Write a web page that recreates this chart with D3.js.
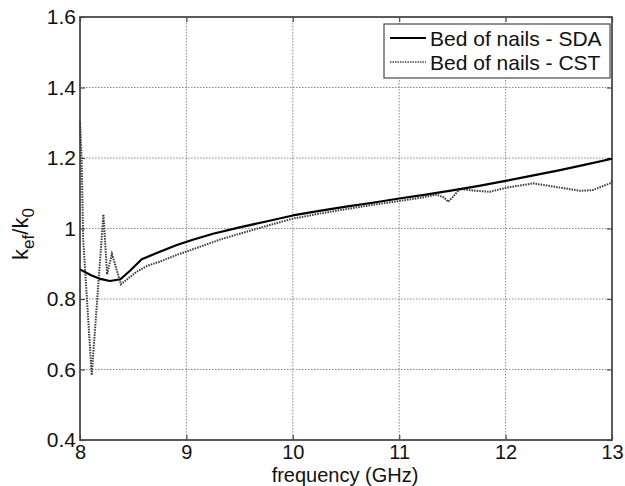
<!DOCTYPE html>
<html>
<head>
<meta charset="utf-8">
<script src="https://cdn.jsdelivr.net/npm/d3@7"></script>
<style>
  html, body { margin: 0; padding: 0; background: #fff; }
  svg { display: block; font-family: "Liberation Sans", Arial, sans-serif; }
</style>
</head>
<body>
<svg id="chart" width="625" height="486"></svg>
<script>
// Effective wavenumber ratio vs frequency
const sdaFreq = [8.0, 8.1, 8.19, 8.28, 8.38, 8.47, 8.58, 8.62, 8.75, 8.91, 9.06, 9.25, 9.5, 9.75, 10, 10.25, 10.5, 10.75, 11, 11.25, 11.5, 11.75, 12, 12.25, 12.5, 12.75, 13];
const sdaVal  = [0.884, 0.868, 0.857, 0.851, 0.856, 0.880, 0.913, 0.918, 0.934, 0.953, 0.968, 0.985, 1.003, 1.020, 1.037, 1.050, 1.062, 1.073, 1.085, 1.096, 1.108, 1.121, 1.135, 1.150, 1.165, 1.181, 1.198];

const cstFreq = [8.0, 8.015, 8.03, 8.11, 8.22, 8.255, 8.30, 8.385, 8.44, 8.53, 8.63, 8.75, 8.91, 9.06, 9.32, 9.5, 9.75, 10, 10.25, 10.5, 10.75, 11, 11.2, 11.35, 11.42, 11.46, 11.5, 11.57, 11.69, 11.85, 12.01, 12.26, 12.45, 12.7, 12.82, 12.98, 13];
const cstVal  = [1.305, 1.20, 0.97, 0.584, 1.04, 0.87, 0.928, 0.842, 0.855, 0.877, 0.894, 0.906, 0.925, 0.941, 0.969, 0.985, 1.007, 1.028, 1.042, 1.055, 1.067, 1.078, 1.087, 1.096, 1.088, 1.076, 1.088, 1.112, 1.108, 1.104, 1.116, 1.128, 1.119, 1.107, 1.109, 1.128, 1.135];

const xTicks = [8, 9, 10, 11, 12, 13];
const yTicks = [0.4, 0.6, 0.8, 1.0, 1.2, 1.4, 1.6];
const seriesNames = ["Bed of nails - SDA", "Bed of nails - CST"];

const svg = d3.select("#chart");
const L = 80, R = 612, T = 17, B = 440;

const x = d3.scaleLinear().domain([8, 13]).range([L, R]);
const y = d3.scaleLinear().domain([0.4, 1.6]).range([B, T]);

const axisColor = "#4a4a4a";
const fmtY = d => (d === 1 ? "1" : d3.format(".1f")(d));
const labelFont = "21px";

// grid
const grid = svg.append("g");
grid.selectAll("line.gx").data(xTicks.slice(1, -1)).join("line")
  .attr("x1", d => x(d)).attr("x2", d => x(d)).attr("y1", T).attr("y2", B)
  .attr("stroke", "#8a8a8a").attr("stroke-width", 1).attr("stroke-dasharray", "1.5,1.5");
grid.selectAll("line.gy").data(yTicks.slice(1, -1)).join("line")
  .attr("y1", d => y(d)).attr("y2", d => y(d)).attr("x1", L).attr("x2", R)
  .attr("stroke", "#8a8a8a").attr("stroke-width", 1).attr("stroke-dasharray", "1.5,1.5");

// axes with inward ticks on all sides
const tickLen = 5;
const axB = svg.append("g").attr("transform", `translate(0,${B})`)
  .call(d3.axisBottom(x).tickValues(xTicks).tickSize(-tickLen).tickPadding(5).tickFormat(d3.format("d")));
const axT = svg.append("g").attr("transform", `translate(0,${T})`)
  .call(d3.axisTop(x).tickValues(xTicks).tickSize(-tickLen).tickFormat(""));
const axL = svg.append("g").attr("transform", `translate(${L},0)`)
  .call(d3.axisLeft(y).tickValues(yTicks).tickSize(-tickLen).tickPadding(4).tickFormat(fmtY));
const axR = svg.append("g").attr("transform", `translate(${R},0)`)
  .call(d3.axisRight(y).tickValues(yTicks).tickSize(-tickLen).tickFormat(""));

[axB, axT, axL, axR].forEach(a => {
  a.select(".domain").remove();
  a.selectAll(".tick line").attr("stroke", axisColor).attr("stroke-width", 1.2);
  a.selectAll("text").attr("fill", "#111").style("font-size", labelFont)
    .style("font-family", "'Liberation Sans', Arial, sans-serif");
});
axB.selectAll("text").attr("dy", "0.71em").style("font-size", "20px");

// frame
svg.append("rect").attr("x", L).attr("y", T).attr("width", R - L).attr("height", B - T)
  .attr("fill", "none").attr("stroke", axisColor).attr("stroke-width", 1.8);

// series
const line = d3.line().x(d => x(d[0])).y(d => y(d[1]));
const sda = sdaFreq.map((f, i) => [f, sdaVal[i]]);
const cst = cstFreq.map((f, i) => [f, cstVal[i]]);

svg.append("path").datum(cst).attr("d", line)
  .attr("fill", "none").attr("stroke", "#3a3a3a").attr("stroke-width", 2)
  .attr("stroke-dasharray", "1.5,1.1");
svg.append("path").datum(sda).attr("d", line)
  .attr("fill", "none").attr("stroke", "#000").attr("stroke-width", 2.2)
  .attr("stroke-linejoin", "round");

// legend
const lg = svg.append("g");
lg.append("rect").attr("x", 384).attr("y", 24).attr("width", 226).attr("height", 54)
  .attr("fill", "#fff").attr("stroke", axisColor).attr("stroke-width", 1.2);
const legendStyles = [
  { stroke: "#000", width: 2.2, dash: null },
  { stroke: "#3a3a3a", width: 1.6, dash: "1.4,1.1" }
];
seriesNames.forEach((name, i) => {
  const yy = 38 + i * 24;
  const s = legendStyles[i];
  lg.append("line").attr("x1", 390).attr("x2", 426).attr("y1", yy).attr("y2", yy)
    .attr("stroke", s.stroke).attr("stroke-width", s.width)
    .attr("stroke-dasharray", s.dash);
  lg.append("text").attr("x", 430).attr("y", yy).attr("dy", "0.36em")
    .style("font-size", labelFont).attr("fill", "#111").text(name);
});

// axis titles
svg.append("text").attr("x", 345).attr("y", 482).attr("text-anchor", "middle")
  .style("font-size", "20px").attr("fill", "#111").text("frequency (GHz)");

const yl = svg.append("text").attr("transform", "translate(28,234) rotate(-90)")
  .attr("text-anchor", "middle").style("font-size", "22px").attr("fill", "#111");
yl.append("tspan").text("k");
yl.append("tspan").attr("dy", 6).style("font-size", "17px").text("ef");
yl.append("tspan").attr("dy", -6).text("/k");
yl.append("tspan").attr("dy", 6).style("font-size", "17px").text("0");
</script>
</body>
</html>
